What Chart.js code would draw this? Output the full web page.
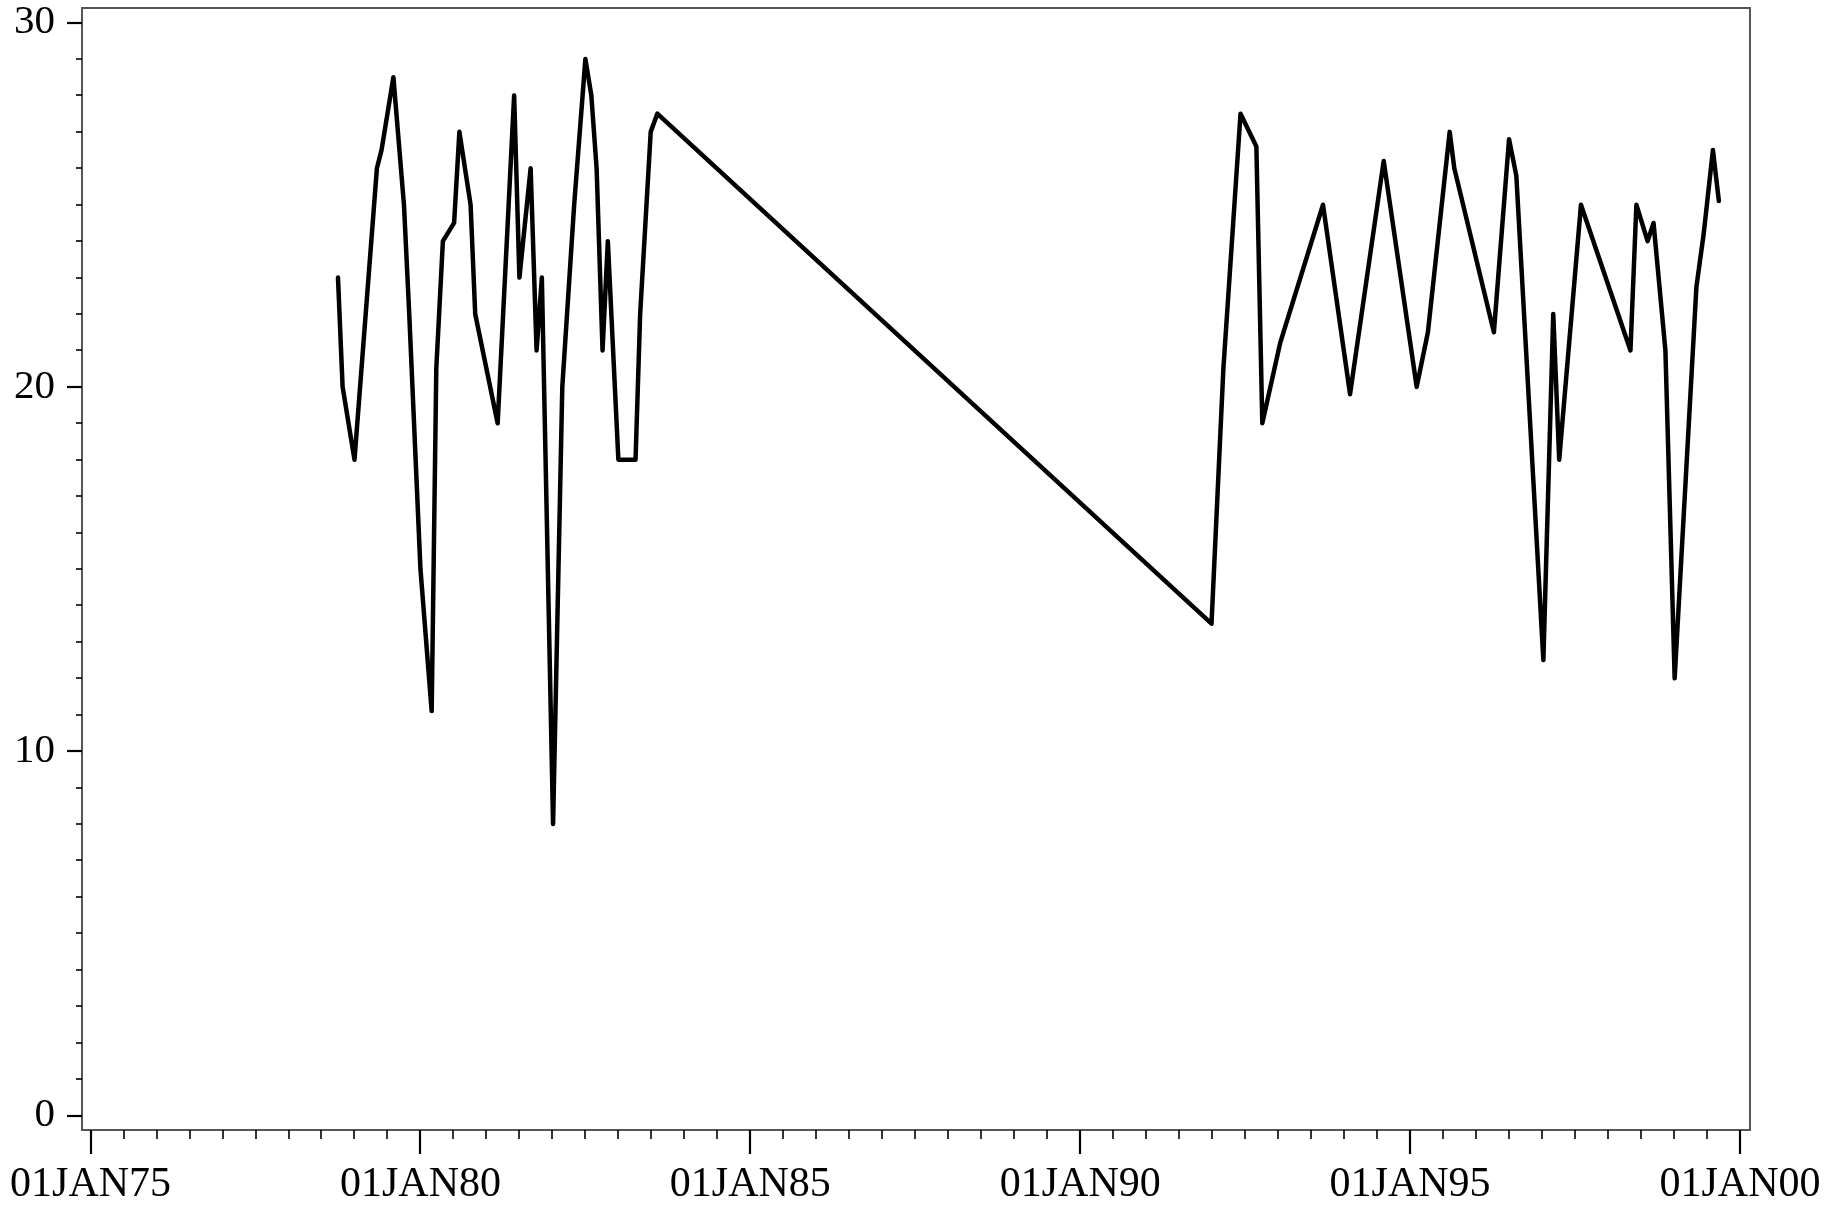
<!DOCTYPE html>
<html>
<head>
<meta charset="utf-8">
<script src="https://cdn.jsdelivr.net/npm/chart.js@4.4.0/dist/chart.umd.min.js"></script>
<style>
  html, body { margin: 0; padding: 0; background: #ffffff; }
  #wrap { width: 1845px; height: 1205px; }
</style>
</head>
<body>
<div id="wrap"><canvas id="c" width="1845" height="1205"></canvas></div>
<script>
// Dates as decimal years
const dates = [
  1978.75, 1978.82, 1979.00, 1979.34, 1979.41, 1979.59, 1979.75, 1979.83, 1980.00, 1980.17,
  1980.24, 1980.34, 1980.51, 1980.59, 1980.76, 1980.83, 1981.17, 1981.42, 1981.50, 1981.67,
  1981.76, 1981.84, 1982.01, 1982.15, 1982.33, 1982.50, 1982.59, 1982.67, 1982.76, 1982.84,
  1983.00, 1983.26, 1983.33, 1983.49, 1983.59,
  1991.99, 1992.17, 1992.43, 1992.67, 1992.76, 1993.03, 1993.68, 1994.09, 1994.60, 1995.10,
  1995.27, 1995.60, 1995.67, 1996.27, 1996.50, 1996.61, 1997.02, 1997.17, 1997.26, 1997.59,
  1998.34, 1998.43, 1998.60, 1998.69, 1998.87, 1999.01, 1999.34, 1999.45, 1999.59, 1999.68
];
const values = [
  23.0, 20.0, 18.0, 26.0, 26.5, 28.5, 25.0, 22.0, 15.0, 11.1,
  20.5, 24.0, 24.5, 27.0, 25.0, 22.0, 19.0, 28.0, 23.0, 26.0,
  21.0, 23.0, 8.0, 20.0, 25.0, 29.0, 28.0, 26.0, 21.0, 24.0,
  18.0, 18.0, 22.0, 27.0, 27.5,
  13.5, 20.5, 27.5, 26.6, 19.0, 21.2, 25.0, 19.8, 26.2, 20.0,
  21.5, 27.0, 26.0, 21.5, 26.8, 25.8, 12.5, 22.0, 18.0, 25.0,
  21.0, 25.0, 24.0, 24.5, 21.0, 12.0, 22.75, 24.2, 26.5, 25.1
];
const xTickValues = [1975, 1980, 1985, 1990, 1995, 2000];
const xTickLabels = ['01JAN75', '01JAN80', '01JAN85', '01JAN90', '01JAN95', '01JAN00'];
const yTickValues = [0, 10, 20, 30];

const points = dates.map((d, i) => ({ x: d, y: values[i] }));

function zeroPad(s) { s.paddingLeft = 0; s.paddingRight = 0; s.paddingTop = 0; s.paddingBottom = 0; }

const framePlugin = {
  id: 'frameTicks',
  afterDraw(chart) {
    const ctx = chart.ctx;
    const a = chart.chartArea;
    const xs = chart.scales.x, ys = chart.scales.y;
    ctx.save();
    // frame
    ctx.strokeStyle = '#555555';
    ctx.lineWidth = 2;
    ctx.strokeRect(a.left, a.top, a.right - a.left, a.bottom - a.top);
    ctx.strokeStyle = '#000000';
    // x ticks
    const first = xTickValues[0], last = xTickValues[xTickValues.length - 1];
    for (let i = 0; i <= (last - first) * 2; i++) {
      const v = first + i * 0.5;
      const px = Math.round(xs.getPixelForValue(v));
      const major = xTickValues.includes(v);
      ctx.lineWidth = major ? 2.2 : 1.6;
      ctx.beginPath();
      ctx.moveTo(px, a.bottom);
      ctx.lineTo(px, a.bottom + (major ? 24 : 9));
      ctx.stroke();
    }
    // y ticks
    for (let v = yTickValues[0]; v <= yTickValues[yTickValues.length - 1]; v++) {
      const py = Math.round(ys.getPixelForValue(v));
      const major = yTickValues.includes(v);
      ctx.lineWidth = major ? 2.2 : 1.6;
      ctx.beginPath();
      ctx.moveTo(a.left, py);
      ctx.lineTo(a.left - (major ? 15 : 6), py);
      ctx.stroke();
    }
    ctx.restore();
  }
};

new Chart(document.getElementById('c'), {
  type: 'line',
  data: {
    datasets: [{
      data: points,
      borderColor: '#000000',
      borderWidth: 4.5,
      borderJoinStyle: 'round',
      borderCapStyle: 'round',
      pointRadius: 0,
      tension: 0,
      fill: false
    }]
  },
  options: {
    responsive: false,
    devicePixelRatio: 1,
    animation: false,
    layout: { padding: { left: 0, top: 8, right: 95, bottom: 0 } },
    plugins: { legend: { display: false }, tooltip: { enabled: false }, title: { display: false } },
    scales: {
      x: {
        type: 'linear',
        min: 1974.870,
        max: 2000.152,
        grid: { display: false, drawTicks: false },
        border: { display: false },
        afterBuildTicks: (s) => { s.ticks = xTickValues.map(v => ({ value: v })); },
        afterFit: (s) => { s.height = 75; zeroPad(s); },
        ticks: {
          autoSkip: false,
          maxRotation: 0,
          padding: 30,
          color: '#000000',
          font: { family: '"Liberation Serif", "Times New Roman", serif', size: 42 },
          callback: (v) => { const i = xTickValues.indexOf(v); return i >= 0 ? xTickLabels[i] : ''; }
        }
      },
      y: {
        type: 'linear',
        min: -0.398,
        max: 30.40,
        grid: { display: false, drawTicks: false },
        border: { display: false },
        afterBuildTicks: (s) => { s.ticks = yTickValues.map(v => ({ value: v })); },
        afterFit: (s) => { s.width = 82; zeroPad(s); },
        ticks: {
          padding: 27,
          color: '#000000',
          font: { family: '"Liberation Serif", "Times New Roman", serif', size: 41 },
          callback: (v) => String(v)
        }
      }
    }
  },
  plugins: [framePlugin]
});
</script>
</body>
</html>
